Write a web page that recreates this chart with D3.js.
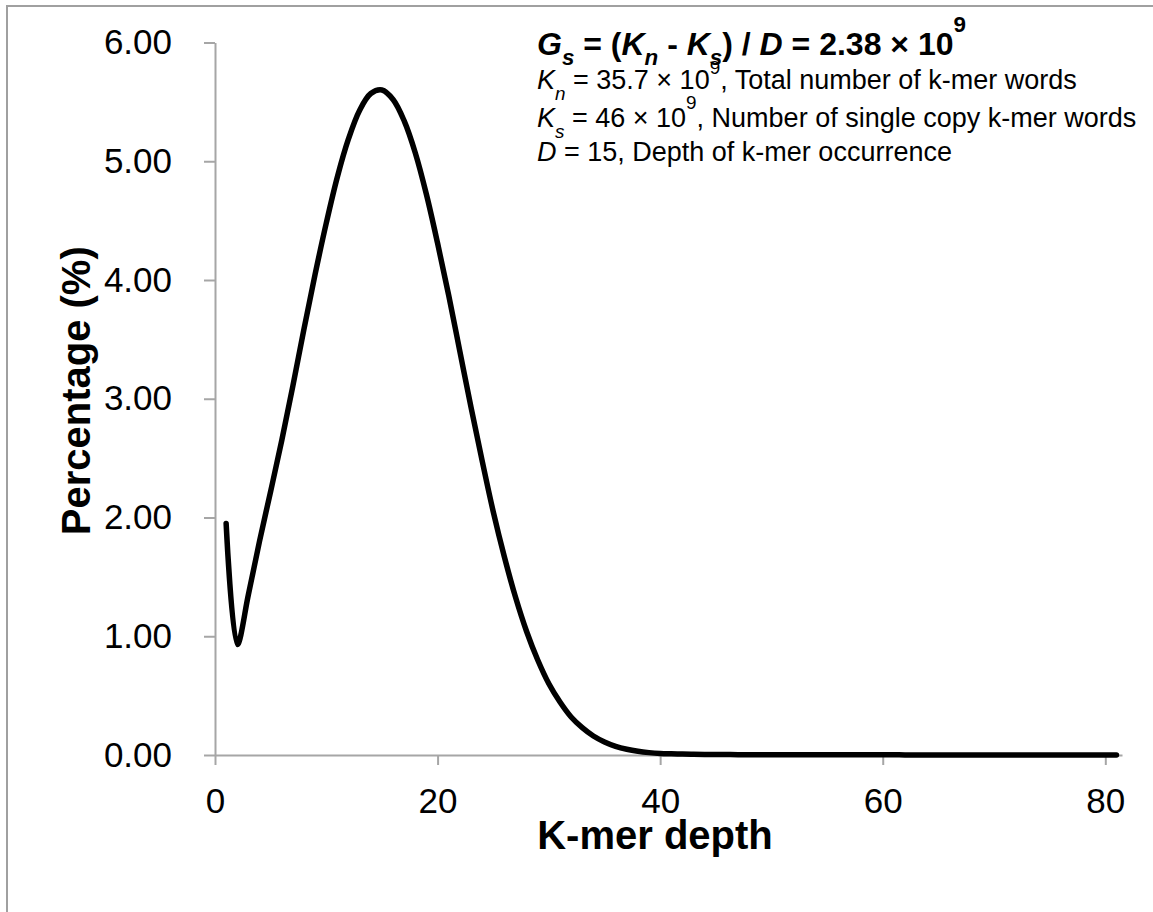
<!DOCTYPE html>
<html>
<head>
<meta charset="utf-8">
<script src="https://cdn.jsdelivr.net/npm/d3@7"></script>
<style>
    body { margin: 0; background: #fff; }
    svg { display: block; }
    text { font-family: "Liberation Sans", Arial, sans-serif; fill: #000; }
</style>
</head>
<body>
<svg id="chart" width="1153" height="912"></svg>
<script>
// k-mer depth distribution, percentage of k-mers at depth 1, 2, 3, ...
let percent = [
    1.95, 0.93, 1.35, 1.80, 2.22, 2.65, 3.11, 3.59, 4.05, 4.48,
    4.87, 5.19, 5.43, 5.57, 5.60, 5.52, 5.34, 5.07, 4.72, 4.31,
    3.87, 3.40, 2.93, 2.48, 2.05, 1.67, 1.33, 1.04, 0.80, 0.60,
    0.446, 0.32, 0.23, 0.16, 0.11, 0.073, 0.048, 0.031, 0.020, 0.013,
    0.010, 0.008, 0.006, 0.005, 0.004, 0.004, 0.003, 0.003, 0.003, 0.003,
    0.002, 0.002, 0.002, 0.002, 0.002, 0.002, 0.002, 0.002, 0.002, 0.002,
    0.002, 0.001, 0.001, 0.001, 0.001, 0.001, 0.001, 0.001, 0.001, 0.001,
    0.001, 0.001, 0.001, 0.001, 0.001, 0.001, 0.001, 0.001, 0.001, 0.001,
    0.001,
];
let depth = percent.map((d, i) => i + 1);

let xTicks = [0, 20, 40, 60, 80];
let yTicks = [0, 1, 2, 3, 4, 5, 6];

let xTitle = "K-mer depth";
let yTitle = "Percentage (%)";

// annotation text: [text, style] pieces, style: i = italic, sub, sup
let noteLines = [
    { bold: true, size: 32, parts: [["G", "i"], ["s", "i sub"], [" = ("], ["K", "i"], ["n", "i sub"], [" - "], ["K", "i"], ["s", "i sub"], [") / "], ["D", "i"], [" = 2.38 × 10"], ["9", "sup"]] },
    { bold: false, size: 27, parts: [["K", "i"], ["n", "i sub"], [" = 35.7 × 10"], ["9", "sup"], [", Total number of k-mer words"]] },
    { bold: false, size: 27, parts: [["K", "i"], ["s", "i sub"], [" = 46 × 10"], ["9", "sup"], [", Number of single copy k-mer words"]] },
    { bold: false, size: 27, parts: [["D", "i"], [" = 15, Depth of k-mer occurrence"]] },
];

let margin = { left: 215, right: 1122, top: 42.5, bottom: 755 };
let axisColor = "#a6a6a6";

let svg = d3.select("#chart");

// outer chart frame (right and bottom edges fall outside the picture)
svg.append("rect")
    .attr("x", 7)
    .attr("y", 6)
    .attr("width", 1200)
    .attr("height", 1000)
    .attr("fill", "none")
    .attr("stroke", "#a0a0a0")
    .attr("stroke-width", 2);

let x = d3.scaleLinear().domain([0, 81.5]).range([margin.left, margin.right]);
let y = d3.scaleLinear().domain([0, 6]).range([margin.bottom, margin.top]);

let yAxis = svg.append("g")
    .attr("transform", `translate(${margin.left},0)`)
    .call(d3.axisLeft(y)
        .tickValues(yTicks)
        .tickFormat(d3.format(".2f"))
        .tickSize(11)
        .tickSizeOuter(0)
        .tickPadding(32));

let xAxis = svg.append("g")
    .attr("transform", `translate(0,${margin.bottom})`)
    .call(d3.axisBottom(x)
        .tickValues(xTicks)
        .tickSize(10)
        .tickSizeOuter(0)
        .tickPadding(23));

[xAxis, yAxis].forEach((g) => {
    g.select(".domain").attr("stroke", axisColor).attr("stroke-width", 2);
    g.selectAll(".tick line").attr("stroke", axisColor).attr("stroke-width", 2);
    g.selectAll(".tick text")
        .attr("font-size", 35)
        .attr("font-family", '"Liberation Sans", Arial, sans-serif')
        .attr("fill", "#000");
});

// the curve
let line = d3.line()
    .x((d) => x(d[0]))
    .y((d) => y(d[1]))
    .curve(d3.curveCatmullRom.alpha(0.5));

svg.append("path")
    .datum(d3.zip(depth, percent))
    .attr("d", line)
    .attr("fill", "none")
    .attr("stroke", "#000")
    .attr("stroke-width", 5.5)
    .attr("stroke-linejoin", "round")
    .attr("stroke-linecap", "round");

// axis titles
svg.append("text")
    .attr("x", 655)
    .attr("y", 849)
    .attr("text-anchor", "middle")
    .attr("font-size", 40)
    .attr("font-weight", "bold")
    .text(xTitle);

svg.append("text")
    .attr("transform", `translate(90,${(margin.top + margin.bottom) / 2 - 8}) rotate(-90)`)
    .attr("text-anchor", "middle")
    .attr("font-size", 40)
    .attr("font-weight", "bold")
    .text(yTitle);

// annotation block
let baselines = [55, 89, 127, 161];
let subShift = [0.3, 0.4, 0.4, 0.4];
let supShift = [0.72, 0.55, 0.65, 0.65];

noteLines.forEach((ln, li) => {
    let t = svg.append("text")
        .attr("x", 537)
        .attr("y", baselines[li])
        .attr("font-size", ln.size)
        .attr("font-weight", ln.bold ? "bold" : "normal");

    let offset = 0;
    ln.parts.forEach((p) => {
        let style = p[1] || "";
        let want = 0;
        let size = ln.size;
        if (style.includes("sub")) { want = ln.size * subShift[li]; size = ln.size * 0.7; }
        if (style.includes("sup")) { want = -ln.size * supShift[li]; size = ln.size * 0.7; }
        let ts = t.append("tspan")
            .attr("dy", want - offset)
            .attr("font-size", size)
            .text(p[0]);
        if (style.includes("i")) ts.attr("font-style", "italic");
        offset = want;
    });
});
</script>
</body>
</html>
